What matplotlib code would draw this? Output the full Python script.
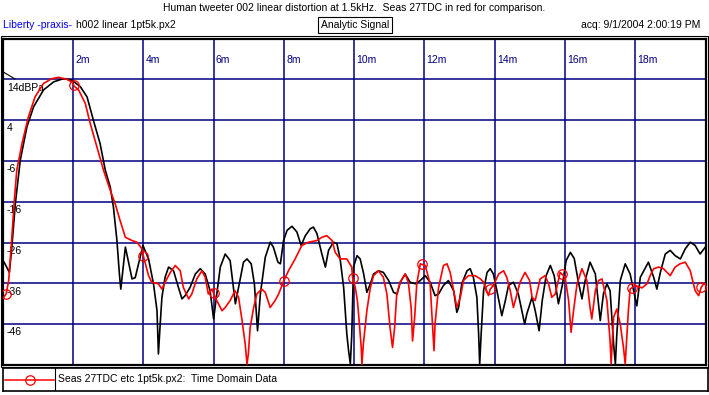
import numpy as np
import matplotlib
matplotlib.use("Agg")
import matplotlib.pyplot as plt
from matplotlib.patches import Rectangle

plt.rcParams['font.family'] = ['Liberation Sans', 'DejaVu Sans']

# --- data (time in ms, level in dB) ---
black_t = [0.04, 0.19, 0.26, 0.36, 0.50, 0.69, 0.88, 1.16, 1.45, 1.73, 1.97, 2.21,
           2.40, 2.58, 2.77, 2.92, 3.06, 3.15, 3.25, 3.32, 3.36, 3.49, 3.68, 3.77,
           3.99, 4.15, 4.29, 4.39, 4.43, 4.48, 4.53, 4.62, 4.72, 4.86, 5.00, 5.10,
           5.19, 5.33, 5.48, 5.62, 5.76, 5.90, 6.00, 6.09, 6.19, 6.33, 6.47, 6.62,
           6.71, 6.85, 6.95, 7.07, 7.16, 7.25, 7.33, 7.47, 7.61, 7.70, 7.83, 7.90,
           7.99, 8.09, 8.23, 8.37, 8.49, 8.61, 8.75, 8.84, 8.94, 9.08, 9.18, 9.27,
           9.41, 9.51, 9.60, 9.70, 9.79, 9.84, 9.89, 9.93, 9.98, 10.08, 10.17, 10.27,
           10.36, 10.46, 10.55, 10.69, 10.83, 10.98, 11.12, 11.22, 11.31, 11.45,
           11.59, 11.74, 11.88, 12.02, 12.16, 12.30, 12.40, 12.54, 12.68, 12.83,
           12.92, 12.97, 13.06, 13.21, 13.30, 13.39, 13.49, 13.54, 13.57, 13.61,
           13.68, 13.78, 13.87, 13.96, 14.06, 14.20, 14.30, 14.39, 14.53, 14.67,
           14.77, 14.85, 14.91, 15.06, 15.15, 15.26, 15.35, 15.46, 15.58, 15.69,
           15.81, 15.92, 16.03, 16.15, 16.26, 16.37, 16.48, 16.57, 16.71, 16.86,
           17.00, 17.09, 17.19, 17.28, 17.38, 17.43, 17.47, 17.57, 17.71, 17.85,
           18.04, 18.14, 18.37, 18.52, 18.61, 18.71, 18.85, 18.99, 19.13, 19.28,
           19.42, 19.56, 19.70, 19.84, 19.99]
black_db = [-30.8, -33.3, -27.1, -16.4, -5.8, 2.4, 7.3, 11.4, 13.4, 14.2, 13.8, 12.2,
            9.7, 4.0, -1.7, -8.3, -12.4, -17.3, -25.5, -33.7, -37.4, -27.1, -34.9, -34.6,
            -26.7, -30.0, -36.1, -42.7, -53.3, -46.0, -39.4, -34.5, -32.0, -32.9, -37.0, -39.8,
            -39.0, -37.0, -33.7, -32.4, -33.7, -37.8, -44.7, -38.6, -32.0, -28.8, -30.4, -41.0,
            -37.0, -30.8, -30.0, -31.2, -36.1, -47.6, -38.6, -29.6, -25.9, -27.1, -30.8, -31.2,
            -25.5, -23.0, -22.0, -23.4, -26.7, -24.3, -22.6, -22.2, -23.8, -28.8, -32.0, -27.9,
            -25.9, -26.3, -30.0, -37.0, -48.4, -52.5, -55.7, -48.8, -32.0, -29.2, -30.0, -33.7,
            -38.2, -36.1, -33.7, -32.9, -33.3, -35.3, -38.2, -38.6, -35.7, -33.7,
            -35.7, -36.1, -35.3, -34.1, -35.7, -39.0, -38.6, -36.5, -35.3, -37.8,
            -43.1, -41.9, -36.1, -32.9, -32.4, -34.5, -39.4, -48.4, -55.8, -48.7,
            -37.8, -33.3, -32.4, -33.7, -37.8, -43.9, -40.2, -36.5, -35.7, -38.6,
            -42.7, -46.0, -43.5, -39.4, -42.7, -47.6, -40.2, -34.1, -31.6, -34.1,
            -41.0, -36.5, -30.4, -28.4, -29.9, -35.3, -39.8, -35.3, -30.8, -33.7,
            -45.1, -38.6, -36.1, -37.8, -50.9, -55.8, -48.7, -35.3, -31.2, -33.7,
            -41.5, -34.5, -30.8, -34.5, -37.4, -33.3, -28.8, -27.9, -29.2, -30.0,
            -27.5, -25.9, -26.7, -28.8, -27.1]

red_t = [0.04, 0.10, 0.17, 0.26, 0.33, 0.40, 0.55, 0.73, 0.92, 1.16, 1.40, 1.59,
         1.83, 1.97, 2.03, 2.16, 2.35, 2.49, 2.68, 2.87, 3.06, 3.20, 3.34, 3.49,
         3.68, 3.82, 3.96, 4.01, 4.15, 4.24, 4.43, 4.53, 4.62, 4.77, 4.91, 5.05,
         5.14, 5.29, 5.38, 5.52, 5.67, 5.76, 5.85, 5.95, 6.09, 6.24, 6.33, 6.47,
         6.61, 6.71, 6.81, 6.90, 6.95, 6.99, 7.04, 7.14, 7.23, 7.37, 7.47, 7.61,
         7.75, 7.85, 7.99, 8.13, 8.32, 8.51, 8.70, 8.94, 9.08, 9.22, 9.37, 9.46,
         9.60, 9.79, 9.93, 9.95, 10.03, 10.09, 10.14, 10.20, 10.22, 10.26, 10.36,
         10.46, 10.55, 10.69, 10.83, 10.93, 11.02, 11.09, 11.15, 11.21, 11.31,
         11.45, 11.54, 11.62, 11.66, 11.72, 11.78, 11.88, 12.02, 12.16, 12.23,
         12.27, 12.30, 12.40, 12.54, 12.64, 12.73, 12.83, 12.92, 13.02, 13.11,
         13.25, 13.44, 13.59, 13.68, 13.82, 13.87, 13.96, 14.11, 14.25, 14.34,
         14.44, 14.53, 14.63, 14.72, 14.86, 14.99, 15.06, 15.15, 15.29, 15.43,
         15.53, 15.62, 15.72, 15.86, 16.00, 16.10, 16.17, 16.24, 16.34, 16.48,
         16.62, 16.71, 16.76, 16.86, 16.95, 17.05, 17.09, 17.19, 17.28, 17.31,
         17.38, 17.47, 17.57, 17.66, 17.71, 17.76, 17.80, 17.85, 17.99, 18.09,
         18.19, 18.33, 18.42, 18.52, 18.66, 18.80, 18.99, 19.13, 19.27, 19.42,
         19.56, 19.70, 19.80, 19.87, 19.94, 19.99]
red_db = [-39.3, -38.5, -35.3, -24.7, -15.7, -8.3, -1.7, 4.8, 9.7, 13.0, 14.2, 14.5,
          14.0, 13.4, 12.4, 11.4, 8.1, 3.2, -2.6, -8.3, -13.2, -16.5, -20.6, -24.7,
          -25.5, -25.9, -27.5, -29.6, -34.1, -35.7, -36.1, -37.4, -35.7, -33.3, -31.6, -32.9,
          -37.0, -39.8, -38.6, -34.9, -32.9, -34.5, -38.6, -37.4, -40.2, -42.7, -41.9, -40.2,
          -37.8, -39.4, -45.1, -50.9, -55.8, -53.2, -46.8, -41.9, -38.6, -37.4, -38.2, -41.9,
          -40.2, -38.6, -35.5, -32.9, -30.0, -26.7, -25.9, -25.5, -24.7, -24.3, -25.5, -28.4,
          -30.0, -30.0, -32.0, -34.3, -37.0, -40.2, -45.1, -51.7, -55.8, -50.9, -42.7,
          -37.0, -34.1, -32.9, -34.5, -38.6, -46.8, -51.7, -46.8, -38.6, -35.7,
          -33.7, -35.7, -41.9, -50.1, -44.3, -36.1, -31.2, -31.6, -36.1, -46.8,
          -52.5, -46.0, -37.0, -31.6, -31.2, -33.3, -37.8, -41.9, -39.4, -35.3,
          -34.1, -34.1, -34.9, -35.7, -39.0, -37.4, -36.5, -33.7, -32.9, -34.5,
          -37.8, -41.9, -38.6, -35.7, -33.3, -35.3, -39.4, -40.2, -34.9, -34.1,
          -36.1, -39.4, -38.6, -33.3, -34.5, -40.2, -48.0, -42.7, -36.1, -32.4,
          -35.3, -41.9, -44.7, -37.8, -35.3, -34.9, -36.5, -40.2, -50.1, -55.7,
          -44.3, -42.3, -46.0, -51.7, -55.7, -48.3, -42.7, -37.4, -36.5, -36.8,
          -37.1, -36.1, -34.1, -32.4, -32.0, -32.4, -34.1, -32.0, -31.2, -30.8,
          -32.9, -37.8, -39.0, -37.0, -36.1, -36.1]

marker_t = [0.10, 2.02, 4.00, 6.00, 7.99, 9.96, 11.93, 13.87, 15.90, 17.89, 19.87]

x_ticks = [2, 4, 6, 8, 10, 12, 14, 16, 18]
y_ticks = [14, 4, -6, -16, -26, -36, -46]
y_labels = ["14dBPa", "4", "-6", "-16", "-26", "-36", "-46"]

NAVY = "#000080"
FS = 7.5
W, H = 709, 395

fig = plt.figure(figsize=(W / 100, H / 100), dpi=100)
fig.patch.set_facecolor("white")

# main plot area (pixel based placement)
left, right, top, bottom = 2.7, 705.7, 38.6, 365.0
ax = fig.add_axes([left / W, 1 - bottom / H, (right - left) / W, (bottom - top) / H])
ax.set_xlim(0, 20)
ax.set_ylim(-56, 24)
ax.set_xticks([])
ax.set_yticks([])
for s in ax.spines.values():
    s.set_linewidth(1.6)
    s.set_color("black")

for t in x_ticks:
    ax.axvline(t, color=NAVY, lw=1.1, zorder=1)
    ax.text(t + 0.06, 18.7, f"{t}m", color=NAVY, fontsize=FS, ha="left", va="center")
for v, lab in zip(y_ticks, y_labels):
    ax.axhline(v, color=NAVY, lw=1.1, zorder=1)
    ax.text(0.12, v - 2.0, lab, color="black", fontsize=FS, ha="left", va="center")

# small reference marker at top-left
ax.plot([0.02, 0.35], [15.8, 14.1], color="black", lw=0.8, zorder=3)

ax.plot(black_t, black_db, color="black", lw=1.2, zorder=4)
ax.plot(red_t, red_db, color="#ff0000", lw=1.2, zorder=5)
ax.plot(marker_t, np.interp(marker_t, red_t, red_db), "o", ms=6.8, mfc="none",
        mec="#ff0000", mew=0.9, zorder=6)

# outer frame line
fig.add_artist(Rectangle((0.8 / W, 1 - 366.5 / H), 706.8 / W, 331 / H,
                         transform=fig.transFigure, fill=False, lw=0.8, ec="black"))

# header texts
fig.text(354 / W, 1 - 8 / H,
         "Human tweeter 002 linear distortion at 1.5kHz.  Seas 27TDC in red for comparison.",
         ha="center", va="center", fontsize=FS)
fig.text(3 / W, 1 - 25 / H, "Liberty -praxis-", color="#0000ff", ha="left", va="center", fontsize=FS)
fig.text(76 / W, 1 - 25 / H, "h002 linear 1pt5k.px2", ha="left", va="center", fontsize=FS)
fig.text(355 / W, 1 - 25 / H, "Analytic Signal", ha="center", va="center", fontsize=FS)
fig.add_artist(Rectangle((318 / W, 1 - 33 / H), 74 / W, 16 / H,
                         transform=fig.transFigure, fill=False, lw=0.8, ec="black"))
fig.text(700 / W, 1 - 25 / H, "acq: 9/1/2004 2:00:19 PM", ha="right", va="center", fontsize=FS)

# legend box
lax = fig.add_axes([2.5 / W, 1 - 391 / H, 705 / W, 23 / H])
lax.set_xlim(0, 705)
lax.set_ylim(0, 23)
lax.set_xticks([])
lax.set_yticks([])
for s in lax.spines.values():
    s.set_linewidth(1.2)
lax.axvline(52, color="black", lw=0.8)
lax.plot([2, 51], [11.5, 11.5], color="#ff0000", lw=1.1)
lax.plot([27], [11.5], "o", ms=6.8, mfc="none", mec="#ff0000", mew=0.9)
lax.text(56, 11.5, "Seas 27TDC etc 1pt5k.px2:  Time Domain Data", ha="left", va="center",
         fontsize=FS)

fig.savefig("out.png", dpi=100)
